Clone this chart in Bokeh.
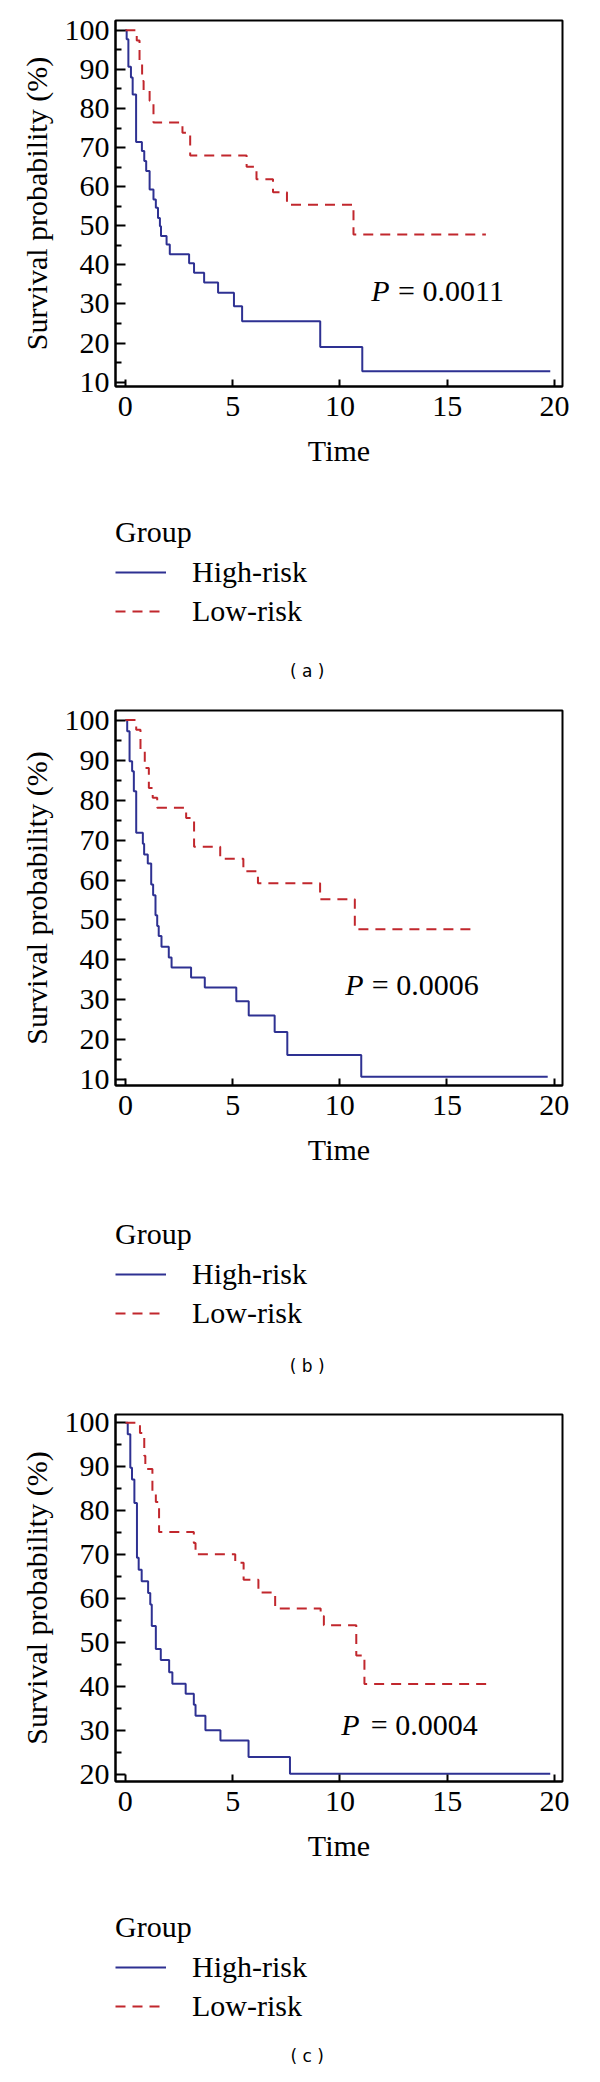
from bokeh.plotting import figure
from bokeh.models import Range1d, Label, Legend, LegendItem, FixedTicker
from bokeh.layouts import column
from bokeh.embed import file_html
from bokeh.resources import INLINE

SERIF = "Liberation Serif"
BLUE = "#2e3192"
RED = "#c1272d"

# ---------------- data ----------------
x_ticks = [0, 5, 10, 15, 20]
group_labels = ["High-risk", "Low-risk"]

# Panel (a)
a_high_t = [0, 0.06, 0.14, 0.26, 0.34, 0.50, 0.77, 0.88, 0.97, 1.13, 1.31, 1.42, 1.52, 1.61, 1.66,
            1.92, 2.07, 2.97, 3.20, 3.67, 4.32, 5.06, 5.44, 9.08, 11.04, 19.8]
a_high_s = [100, 97.7, 90.7, 87.9, 83.6, 71.4, 69.1, 66.6, 64.0, 59.3, 56.7, 54.6, 52.0, 49.9, 47.4,
            45.2, 42.7, 40.4, 38.0, 35.5, 32.9, 29.4, 25.6, 19.0, 12.8, 12.8]
a_low_t = [0, 0.53, 0.66, 0.78, 0.85, 1.13, 1.31, 2.66, 3.02, 5.65, 6.11, 6.88, 7.53, 10.63, 16.8]
a_low_s = [100, 97.4, 92.1, 87.0, 84.7, 82.0, 76.4, 73.8, 68.0, 65.1, 61.9, 58.6, 55.4, 47.8, 47.8]
a_yticks = [10, 20, 30, 40, 50, 60, 70, 80, 90, 100]
a_p = "= 0.0011"

# Panel (b)
b_high_t = [0, 0.08, 0.19, 0.31, 0.39, 0.50, 0.81, 0.87, 1.04, 1.20, 1.29, 1.40, 1.48, 1.55, 1.68,
            2.02, 2.15, 3.06, 3.70, 5.17, 5.75, 6.96, 7.55, 11.0, 19.7]
b_high_s = [100, 97.2, 89.7, 87.2, 82.2, 71.8, 69.1, 66.4, 64.1, 58.9, 56.2, 51.2, 48.5, 46.0, 43.3,
            40.6, 38.1, 35.6, 33.1, 29.7, 26.1, 22.0, 16.2, 10.8, 10.8]
b_low_t = [0, 0.50, 0.70, 0.90, 1.09, 1.27, 1.48, 2.83, 3.20, 4.42, 5.50, 6.18, 9.08, 10.7, 16.4]
b_low_s = [100, 97.6, 92.6, 88.0, 83.0, 80.6, 78.1, 75.5, 68.3, 65.3, 62.2, 59.2, 55.2, 47.7, 47.7]
b_yticks = [10, 20, 30, 40, 50, 60, 70, 80, 90, 100]
b_p = "= 0.0006"

# Panel (c)
c_high_t = [0, 0.11, 0.23, 0.31, 0.42, 0.54, 0.62, 0.76, 1.06, 1.16, 1.23, 1.42, 1.65, 2.04, 2.19,
            2.81, 3.19, 3.27, 3.73, 4.43, 5.74, 7.67, 19.8]
c_high_s = [100, 97.4, 89.8, 87.1, 81.8, 69.3, 66.6, 64.0, 61.3, 58.7, 53.8, 48.6, 46.1, 43.3, 40.7,
            38.4, 35.9, 33.4, 30.1, 27.8, 24.0, 20.2, 20.2]
c_low_t = [0, 0.68, 0.88, 0.93, 1.26, 1.42, 1.57, 3.19, 3.27, 5.12, 5.51, 6.20, 6.98, 9.10, 9.25,
           10.76, 11.14, 16.9]
c_low_s = [100, 97.7, 92.5, 89.5, 84.5, 82.0, 75.2, 72.7, 70.1, 68.2, 64.3, 61.4, 57.8, 56.1, 54.0,
           47.1, 40.6, 40.6]
c_yticks = [20, 30, 40, 50, 60, 70, 80, 90, 100]
c_p = "= 0.0004"

W = 584


def make_chart(high_t, high_s, low_t, low_s, yticks, xr, yr, height, top, frame_h, left, frame_w,
               p_text, p_xy, eq_x):
    p = figure(width=W, height=height, output_backend="svg", toolbar_location=None,
               x_range=Range1d(*xr), y_range=Range1d(*yr), title=None)
    p.min_border_left = left
    p.min_border_right = W - left - frame_w
    p.min_border_top = top
    p.min_border_bottom = height - top - frame_h
    p.xgrid.visible = False
    p.ygrid.visible = False
    p.background_fill_color = "white"
    p.border_fill_color = "white"
    p.outline_line_color = "black"
    p.outline_line_width = 2
    p.outline_line_alpha = 1

    minor = [v + 5 for v in yticks[:-1]]
    p.xaxis.ticker = FixedTicker(ticks=x_ticks, minor_ticks=[])
    p.yaxis.ticker = FixedTicker(ticks=yticks, minor_ticks=minor)
    for ax in (p.xaxis[0], p.yaxis[0]):
        ax.axis_line_color = "black"
        ax.axis_line_width = 2
        ax.major_tick_line_color = "black"
        ax.major_tick_line_width = 2
        ax.minor_tick_line_color = "black"
        ax.minor_tick_line_width = 2
        ax.major_tick_out = 0
        ax.minor_tick_out = 0
        ax.major_label_text_font = SERIF
        ax.major_label_text_font_size = "30px"
        ax.major_label_text_color = "black"
        ax.axis_label_text_font = SERIF
        ax.axis_label_text_font_size = "30px"
        ax.axis_label_text_font_style = "normal"
        ax.axis_label_text_color = "black"
    p.xaxis.major_tick_in = 7
    p.xaxis.minor_tick_in = 0
    p.yaxis.major_tick_in = 10
    p.yaxis.minor_tick_in = 6
    p.xaxis.axis_label = "Time"
    p.yaxis.axis_label = "Survival probability (%)"
    p.xaxis.major_label_standoff = 10
    p.xaxis.axis_label_standoff = 15
    p.yaxis.major_label_standoff = 6
    p.yaxis.axis_label_standoff = 9

    p.step(high_t, high_s, mode="after", line_color=BLUE, line_width=2)
    p.step(low_t, low_s, mode="after", line_color=RED, line_width=2, line_dash="10 7")

    p.add_layout(Label(x=p_xy[0], y=p_xy[1], text="P", text_font=SERIF, text_font_style="italic",
                       text_font_size="30px", text_baseline="alphabetic", text_align="left",
                       text_color="black"))
    p.add_layout(Label(x=eq_x, y=p_xy[1], text=p_text, text_font=SERIF,
                       text_font_size="30px", text_baseline="alphabetic", text_align="left",
                       text_color="black"))
    return p


X0 = 100  # legend panel x offset: keeps the legend proxy series out of view
LEG_LEFT = 113


def make_legend(height, top, high_t, high_s, low_t, low_s, caption, cap_xy):
    f = figure(width=W, height=height, output_backend="svg", toolbar_location=None,
               x_range=Range1d(X0 + LEG_LEFT, X0 + W), y_range=Range1d(0, height - top),
               title=None, x_axis_location=None, y_axis_location=None)
    f.min_border = 0
    f.min_border_left = LEG_LEFT
    f.min_border_top = top
    f.min_border_right = 0
    f.min_border_bottom = 0
    f.grid.visible = False
    f.outline_line_color = None
    f.background_fill_color = "white"
    f.border_fill_color = "white"
    # legend proxies: same series and styles (drawn outside this panel's view)
    r1 = f.step(high_t, high_s, mode="after", line_color=BLUE, line_width=2)
    r2 = f.step(low_t, low_s, mode="after", line_color=RED, line_width=2, line_dash="10 7")
    legend = Legend(items=[LegendItem(label=group_labels[0], renderers=[r1]),
                           LegendItem(label=group_labels[1], renderers=[r2])],
                    location="top_left", title="Group")
    legend.border_line_color = None
    legend.background_fill_alpha = 0
    legend.padding = 0
    legend.margin = 0
    legend.glyph_width = 51
    legend.glyph_height = 20
    legend.label_standoff = 26
    legend.spacing = 5
    legend.title_standoff = 6
    legend.label_text_font = SERIF
    legend.label_text_font_size = "30px"
    legend.label_text_color = "black"
    legend.title_text_font = SERIF
    legend.title_text_font_size = "30px"
    legend.title_text_font_style = "normal"
    legend.title_text_color = "black"
    f.add_layout(legend)
    f.add_layout(Label(x=X0 + cap_xy[0], y=cap_xy[1], text=caption, text_font="DejaVu Sans",
                       text_font_size="17px", text_baseline="middle", text_align="center",
                       text_color="black"))
    return f


pa = make_chart(a_high_t, a_high_s, a_low_t, a_low_s, a_yticks, (-0.46, 20.37), (8.9, 102.5),
                492, 20, 366, 113, 449, a_p, (11.46, 33.4), 12.71)
la = make_legend(200, 23, a_high_t, a_high_s, a_low_t, a_low_s, "( a )", (315, 22))
pb = make_chart(b_high_t, b_high_s, b_low_t, b_low_s, b_yticks, (-0.466, 20.39), (8.6, 102.4),
                500, 18, 375, 115, 448, b_p, (10.25, 33.9), 11.49)
lb = make_legend(200, 25, b_high_t, b_high_s, b_low_t, b_low_s, "( b )", (315, 27))
pc = make_chart(c_high_t, c_high_s, c_low_t, c_low_s, c_yticks, (-0.46, 20.37), (18.45, 101.9),
                500, 22, 367, 113, 449, c_p, (10.06, 31.5), 11.44)
lc = make_legend(174, 18, c_high_t, c_high_s, c_low_t, c_low_s, "( c )", (315, 11))

layout = column(pa, la, pb, lb, pc, lc, spacing=0)
open("out.html", "w").write(file_html(layout, INLINE))
